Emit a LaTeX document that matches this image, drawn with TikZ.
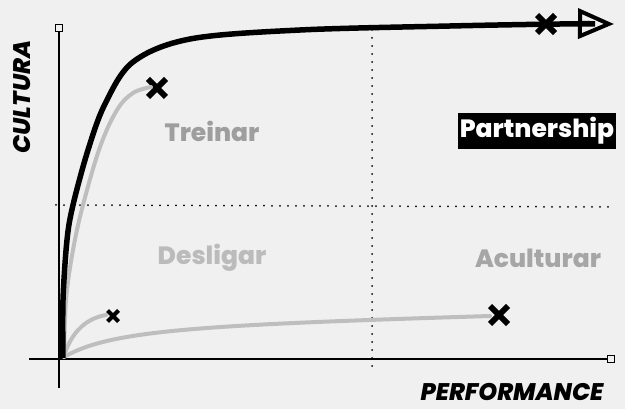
\documentclass[tikz,border=0pt]{standalone}
\usepackage{fontspec}
\setmainfont{Poppins}[BoldFont={Poppins ExtraBold},BoldItalicFont={Poppins ExtraBold Italic}]
\usetikzlibrary{arrows.meta,shapes.misc}
\definecolor{bg}{HTML}{F0F0F0}
\definecolor{gA}{HTML}{9E9E9E}
\definecolor{gB}{HTML}{BBBBBB}
\definecolor{gC}{HTML}{A6A6A6}
\definecolor{gline}{HTML}{BEBEBE}
\begin{document}
\begin{tikzpicture}[x=1pt,y=-1pt,
  axis/.style={line width=2pt,black},
  endsq/.style={draw=black,fill=bg,line width=1.6pt,minimum size=7pt,inner sep=0pt,rectangle},
  dotline/.style={line width=2pt,dash pattern=on 0pt off 8pt,line cap=round},
  xmark/.style={cross out,draw=black,line width=6pt,minimum size=12pt,inner sep=0pt},
  xsmall/.style={cross out,draw=black,line width=4pt,minimum size=7pt,inner sep=0pt},
  grayc/.style={line width=4pt,gline,line cap=round},
  quad/.style={font=\bfseries\fontsize{25}{30}\selectfont,inner sep=0pt},
  axlab/.style={font=\bfseries\itshape\fontsize{24}{30}\selectfont,inner sep=0pt,text depth=0pt}]
\fill[bg] (0,0) rectangle (625,409);
\useasboundingbox (0,0) rectangle (625,409);
% axes
\coordinate (o) at (59,359);
\node[endsq] (ytop) at (59,28) {};
\node[endsq] (xend) at (611,359) {};
\coordinate (ybot) at (59,388);
\coordinate (xleft) at (29,359);
\draw[axis] (ybot) -- (ytop);
\draw[axis] (xleft) -- (xend);
% dotted dividers
\coordinate (vt) at (372,30);
\coordinate (vb) at (372,366);
\coordinate (hl) at (56,205);
\coordinate (hr) at (612,207);
\draw[dotline] (vt) -- (vb);
\draw[dotline] (hl) -- (hr);
% gray curves
\node[xmark] (x1) at (157,88) {};
\node[xsmall] (x2) at (113,316) {};
\node[xmark] (x3) at (499,315) {};
\draw[grayc] plot[smooth,tension=0.6] coordinates {(64,357)(66,300)(73,250)(83,205)(100,147)(117,110)(133,93)(151,87)};
\draw[grayc] (64,356) .. controls (72,330) and (88,318) .. (106,315);
\draw[grayc] (64,357) .. controls (110,330) and (200,325) .. (490,316);
% black curve
\node[xmark] (xb) at (546,24) {};
\coordinate (arrowend) at (614,24);
\draw[line width=5.5pt,black,-{Triangle[open,length=36pt,width=30pt,line width=4pt]}] plot[smooth,tension=0.55] coordinates {(63,358)(63,300)(67,240)(73,205)(88,150)(105,104)(133,62)(190,39)(300,30)(450,26)(560,24)(614,24)};
% labels
\node[quad,text=gA] (treinar) at (212,131) {Treinar};
\node[quad,text=gB] (desligar) at (212,258) {Desligar};
\node[quad,text=gC] (acult) at (538,258) {Aculturar};
\node[quad,text=white,fill=black,inner xsep=2pt,inner ysep=4pt] (partner) at (537,131) {Partnership};
\node[axlab,rotate=90] (cultura) at (22,97) {CULTURA};
\node[axlab,anchor=base] (perf) at (512,400) {PERFORMANCE};
\end{tikzpicture}
\end{document}
